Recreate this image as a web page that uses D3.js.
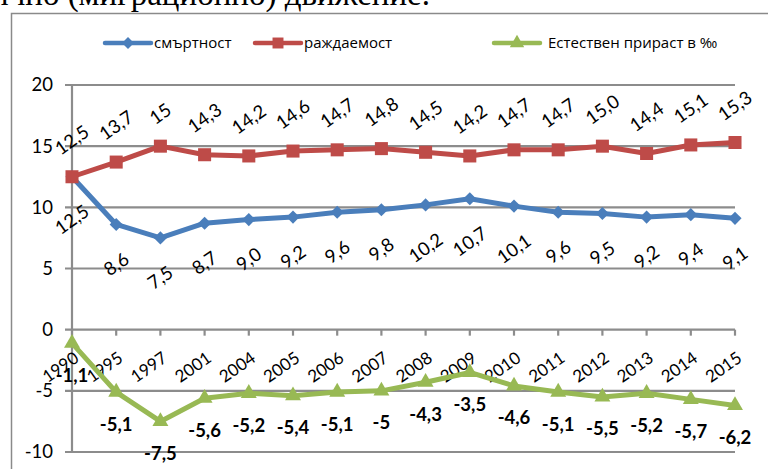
<!DOCTYPE html>
<html>
<head>
<meta charset="utf-8">
<script src="https://cdn.jsdelivr.net/npm/d3@7"></script>
<style>
  body { margin: 0; background: #fff; }
  svg { display: block; }
  text { fill: #000; }
</style>
</head>
<body>
<svg id="chart" width="768" height="469"></svg>
<script>
const years = ['1990', '1995', '1997', '2001', '2004', '2005', '2006', '2007', '2008', '2009', '2010', '2011', '2012', '2013', '2014', '2015']

const deathRate = [12.5, 8.6, 7.5, 8.7, 9.0, 9.2, 9.6, 9.8, 10.2, 10.7, 10.1, 9.6, 9.5, 9.2, 9.4, 9.1]
const deathLabels = ['12,5', '8,6', '7,5', '8,7', '9,0', '9,2', '9,6', '9,8', '10,2', '10,7', '10,1', '9,6', '9,5', '9,2', '9,4', '9,1']

const birthRate = [12.5, 13.7, 15, 14.3, 14.2, 14.6, 14.7, 14.8, 14.5, 14.2, 14.7, 14.7, 15.0, 14.4, 15.1, 15.3]
const birthLabels = ['12,5', '13,7', '15', '14,3', '14,2', '14,6', '14,7', '14,8', '14,5', '14,2', '14,7', '14,7', '15,0', '14,4', '15,1', '15,3']

const growthRate = [-1.1, -5.1, -7.5, -5.6, -5.2, -5.4, -5.1, -5, -4.3, -3.5, -4.6, -5.1, -5.5, -5.2, -5.7, -6.2]
const growthLabels = ['-1,1', '-5,1', '-7,5', '-5,6', '-5,2', '-5,4', '-5,1', '-5', '-4,3', '-3,5', '-4,6', '-5,1', '-5,5', '-5,2', '-5,7', '-6,2']

const yTicks = [20, 15, 10, 5, 0, -5, -10]

const seriesNames = ['смъртност', 'раждаемост', 'Естествен прираст в ‰']

const BLUE = '#4a7ebb'
const RED = '#be4b48'
const GREEN = '#98b954'
const GRID = '#8c8c8c'
const NUM_FONT = 'Lato, Carlito, Calibri, "Open Sans", sans-serif'
const ANGLE = -35

const svg = d3.select('#chart')

// leftover line of document text, cut at the top
svg.append('text')
  .attr('x', 430).attr('y', 5)
  .attr('text-anchor', 'end')
  .style('font-family', '"Liberation Serif", "DejaVu Serif", serif')
  .style('font-size', '33px')
  .text('механично (миграционно) движение.')

// chart frame
svg.append('rect')
  .attr('x', 11.5).attr('y', 13.5)
  .attr('width', 800).attr('height', 500)
  .attr('fill', 'none')
  .attr('stroke', '#8a8a8a')
  .attr('stroke-width', 1.5)

const x = d3.scalePoint().domain(years).range([72, 735])
const y = d3.scaleLinear().domain([-10, 20]).range([452, 85])

// gridlines + y ticks
const gy = svg.append('g')
gy.selectAll('line.grid')
  .data(yTicks)
  .join('line')
  .attr('class', 'grid')
  .attr('x1', 65).attr('x2', 735)
  .attr('y1', (d) => y(d)).attr('y2', (d) => y(d))
  .attr('stroke', GRID)
  .attr('stroke-width', 2.2)

gy.append('line')
  .attr('x1', 72).attr('x2', 72)
  .attr('y1', y(20)).attr('y2', y(-10))
  .attr('stroke', GRID)
  .attr('stroke-width', 2.2)

gy.selectAll('text')
  .data(yTicks)
  .join('text')
  .attr('x', 53)
  .attr('y', (d) => y(d))
  .attr('dy', '0.35em')
  .attr('text-anchor', 'end')
  .style('font-family', NUM_FONT)
  .style('font-size', '18.5px')
  .text((d) => d)

// category axis at zero
const gx = svg.append('g')
gx.selectAll('line')
  .data(years)
  .join('line')
  .attr('x1', (d) => x(d)).attr('x2', (d) => x(d))
  .attr('y1', y(0)).attr('y2', y(0) + 6)
  .attr('stroke', GRID)
  .attr('stroke-width', 2.2)

gx.selectAll('text')
  .data(years)
  .join('text')
  .attr('text-anchor', 'end')
  .attr('transform', (d) => `translate(${x(d) + 8},${y(0) + 31}) rotate(${ANGLE})`)
  .style('font-family', NUM_FONT)
  .style('font-size', '17px')
  .text((d) => d)

// series lines and markers
const line = d3.line().x((d, i) => x(years[i])).y((d) => y(d))

const drawSeries = (values, color, symbol, size) => {
  const g = svg.append('g')
  g.append('path')
    .datum(values)
    .attr('d', line)
    .attr('fill', 'none')
    .attr('stroke', color)
    .attr('stroke-width', 5)
    .attr('stroke-linejoin', 'round')
  g.selectAll('path.mark')
    .data(values)
    .join('path')
    .attr('class', 'mark')
    .attr('transform', (d, i) => `translate(${x(years[i])},${y(d)})`)
    .attr('d', d3.symbol().type(symbol).size(size))
    .attr('fill', color)
}

drawSeries(deathRate, BLUE, d3.symbolDiamond2, 110)
drawSeries(birthRate, RED, d3.symbolSquare, 170)
drawSeries(growthRate, GREEN, d3.symbolTriangle, 110)

// rotated value labels, placed by their rotated box
const sin = Math.sin(Math.abs(ANGLE) * Math.PI / 180)
const cos = Math.cos(Math.abs(ANGLE) * Math.PI / 180)

const rotatedLabels = (values, labels, above, gap) => {
  const g = svg.append('g')
  g.selectAll('text')
    .data(values)
    .join('text')
    .attr('text-anchor', 'middle')
    .attr('dy', '0.35em')
    .style('font-family', NUM_FONT)
    .style('font-size', '18.5px')
    .text((d, i) => labels[i])
    .attr('transform', function(d, i) {
      const w = this.getComputedTextLength()
      const half = (w * sin + 13 * cos) / 2
      const cy = above ? y(d) - gap - half : y(d) + gap + half
      return `translate(${x(years[i])},${cy}) rotate(${ANGLE})`
    })
}

rotatedLabels(birthRate, birthLabels, true, 21)
rotatedLabels(deathRate, deathLabels, false, 27)

svg.append('g')
  .selectAll('text')
  .data(growthRate)
  .join('text')
  .attr('x', (d, i) => x(years[i]))
  .attr('y', (d) => y(d) + 32)
  .attr('dy', '0.35em')
  .attr('text-anchor', 'middle')
  .style('font-family', NUM_FONT)
  .style('font-size', '18.5px')
  .style('font-weight', 'bold')
  .text((d, i) => growthLabels[i])

// legend
const legendItems = [
  { x0: 105, color: BLUE, symbol: d3.symbolDiamond2, size: 90 },
  { x0: 255, color: RED, symbol: d3.symbolSquare, size: 120 },
  { x0: 494, color: GREEN, symbol: d3.symbolTriangle, size: 90 },
]
const legend = svg.append('g')
legendItems.forEach((item, i) => {
  const gl = legend.append('g').attr('transform', `translate(${item.x0},43)`)
  gl.append('line')
    .attr('x1', 0).attr('x2', 46)
    .attr('stroke', item.color)
    .attr('stroke-width', 4.5)
    .attr('stroke-linecap', 'round')
  gl.append('path')
    .attr('transform', 'translate(23,0)')
    .attr('d', d3.symbol().type(item.symbol).size(item.size))
    .attr('fill', item.color)
  gl.append('text')
    .attr('x', i === 2 ? 54 : 49)
    .attr('dy', '0.35em')
    .style('font-family', '"Open Sans", "Noto Sans", sans-serif')
    .style('font-size', '15px')
    .text(seriesNames[i])
})
</script>
</body>
</html>
